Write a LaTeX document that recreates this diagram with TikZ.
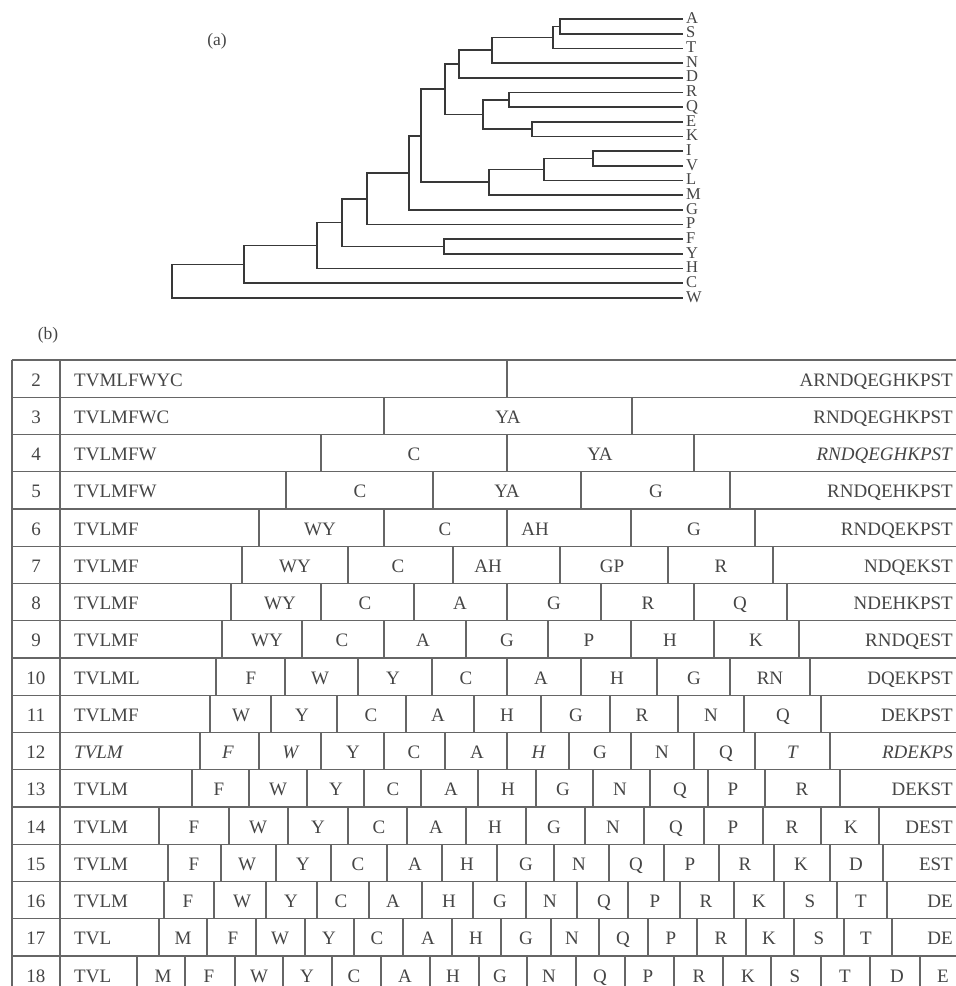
\documentclass[tikz,border=0pt]{standalone}
\usepackage{fontspec}
\setmainfont{Liberation Serif}
\usepackage{tikz}
\definecolor{inkgrey}{gray}{0.27}
\definecolor{rulegrey}{gray}{0.40}
\definecolor{treegrey}{gray}{0.22}

\newcommand{\tabrow}[5]{%
 \pgfmathsetmacro{\yt}{360+37.25*(#1-2)}
 \pgfmathsetmacro{\yc}{\yt+18.6}
 \node[num] (r#1n) at (36,\yc) {#1};
 \node[lead] (r#1a) at (74,\yc) {#2};
 \node[tail] (r#1z) at (953,\yc) {#5};
 \foreach \cx in {#3} \draw[rule] (\cx,\yt) -- ++(0,37.25);
 \foreach \cx/\ct [count=\j] in {#4} \node[cell] (r#1c\j) at (\cx,\yc) {\ct};
}

\begin{document}
\begin{tikzpicture}[x=1pt,y=-1pt,
 every node/.style={text=inkgrey,font=\fontsize{19}{20}\selectfont},
 rule/.style={draw=rulegrey,line width=1.2pt},
 branch/.style={draw=treegrey,line width=1.7pt},
 leaf/.style={anchor=west,inner sep=0pt,outer sep=3pt,text height=8.5pt,text depth=0pt,font=\fontsize{16.5}{17}\selectfont},
 cell/.style={inner sep=0pt,text height=15pt,text depth=0pt},
 num/.style={cell},
 lead/.style={cell,anchor=west},
 tail/.style={cell,anchor=east}]
 \clip (0,0) rectangle (956,986);

 % (a) tree
 \node[font=\fontsize{17.5}{18}\selectfont] (lblA) at (217,41) {(a)};
 \foreach \lab [count=\i from 0] in {A,S,T,N,D,R,Q,E,K,I,V,L,M,G,P,F,Y,H,C,W}
  \node[leaf] (l\lab) at (683,{19+14.68*\i}) {\lab};
 \coordinate (nAS) at (560,26.4);
 \coordinate (nAST) at (552.7,37.4);
 \coordinate (nASTN) at (492.3,50.2);
 \coordinate (nASTND) at (459.3,64);
 \coordinate (nRQ) at (509,99.8);
 \coordinate (nEK) at (532.3,129.1);
 \coordinate (nRQEK) at (482.7,114.4);
 \coordinate (nAK) at (445,89.2);
 \coordinate (nIV) at (593.3,158.5);
 \coordinate (nIVL) at (544.3,169.5);
 \coordinate (nIVLM) at (489.3,182.3);
 \coordinate (nAM) at (420.7,135.8);
 \coordinate (nAG) at (408.7,172.8);
 \coordinate (nAP) at (367.3,198.7);
 \coordinate (nFY) at (444.3,246.5);
 \coordinate (nAY) at (341.7,222.6);
 \coordinate (nAH) at (317.3,245.6);
 \coordinate (nAC) at (244.3,264.4);
 \coordinate (root) at (172.3,281.2);
 \draw[branch] (lA.west) -| (nAS) |- (lS.west);
 \draw[branch] (nAS) -| (nAST) |- (lT.west);
 \draw[branch] (nAST) -| (nASTN) |- (lN.west);
 \draw[branch] (nASTN) -| (nASTND) |- (lD.west);
 \draw[branch] (lR.west) -| (nRQ) |- (lQ.west);
 \draw[branch] (lE.west) -| (nEK) |- (lK.west);
 \draw[branch] (nRQ) -| (nRQEK) |- (nEK);
 \draw[branch] (nASTND) -| (nAK) |- (nRQEK);
 \draw[branch] (lI.west) -| (nIV) |- (lV.west);
 \draw[branch] (nIV) -| (nIVL) |- (lL.west);
 \draw[branch] (nIVL) -| (nIVLM) |- (lM.west);
 \draw[branch] (nAK) -| (nAM) |- (nIVLM);
 \draw[branch] (nAM) -| (nAG) |- (lG.west);
 \draw[branch] (nAG) -| (nAP) |- (lP.west);
 \draw[branch] (lF.west) -| (nFY) |- (lY.west);
 \draw[branch] (nAP) -| (nAY) |- (nFY);
 \draw[branch] (nAY) -| (nAH) |- (lH.west);
 \draw[branch] (nAH) -| (nAC) |- (lC.west);
 \draw[branch] (nAC) -| (root) |- (lW.west);

 % (b) table
 \node[font=\fontsize{17.5}{18}\selectfont] (lblB) at (48,335) {(b)};
 \foreach \k in {0,...,16}
  \draw[rule] (12,{360+37.25*\k}) -- (956,{360+37.25*\k});
 \draw[rule] (12,360) -- (12,986);
 \draw[rule] (60,360) -- (60,986);
 \tabrow{2}{TVMLFWYC}{507}{}{ARNDQEGHKPST}
 \tabrow{3}{TVLMFWC}{384,632}{508/YA}{RNDQEGHKPST}
 \tabrow{4}{TVLMFW}{321,507,694}{414/C,600/YA}{\textit{RNDQEGHKPST}}
 \tabrow{5}{TVLMFW}{286,433,581,730}{360/C,507/YA,656/G}{RNDQEHKPST}
 \tabrow{6}{TVLMF}{259,384,507,631,755}{320/WY,445/C,535/AH,694/G}{RNDQEKPST}
 \tabrow{7}{TVLMF}{242,348,453,560,668,773}{295/WY,398/C,488/AH,612/GP,721/R}{NDQEKST}
 \tabrow{8}{TVLMF}{231,321,414,507,601,694,787}{280/WY,365/C,460/A,554/G,648/R,740/Q}{NDEHKPST}
 \tabrow{9}{TVLMF}{222,302,384,466,548,631,714,799}{267/WY,342/C,423/A,507/G,589/P,670/H,756/K}{RNDQEST}
 \tabrow{10}{TVLML}{216,285,358,432,507,581,657,730,810}{251/F,320/W,393/Y,466/C,541/A,617/H,694/G,770/RN}{DQEKPST}
 \tabrow{11}{TVLMF}{210,271,337,406,474,541,610,678,744,821}{241/W,302/Y,371/C,438/A,507/H,576/G,642/R,711/N,783/Q}{DEKPST}
 \tabrow{12}{\textit{TVLM}}{200,259,321,384,445,507,569,631,694,755,830}{228/\textit{F},291/\textit{W},353/Y,414/C,477/A,539/\textit{H},600/G,662/N,726/Q,793/\textit{T}}{\textit{RDEKPS}}
 \tabrow{13}{TVLM}{192,249,307,364,421,478,536,593,650,708,765,840}{219/F,278/W,336/Y,393/C,451/A,508/H,563/G,620/N,680/Q,733/P,802/R}{DEKST}
 \tabrow{14}{TVLM}{159,229,288,348,407,466,526,585,644,704,763,821,879}{194/F,258/W,318/Y,379/C,436/A,495/H,554/G,613/N,676/Q,733/P,792/R,851/K}{DEST}
 \tabrow{15}{TVLM}{168,221,276,331,387,442,497,554,609,664,719,774,830,883}{194/F,247/W,303/Y,358/C,415/A,467/H,526/G,579/N,636/Q,690/P,745/R,801/K,856/D}{EST}
 \tabrow{16}{TVLM}{164,214,266,317,369,422,473,526,577,628,680,734,784,837,887}{188/F,242/W,291/Y,341/C,393/A,449/H,500/G,550/N,604/Q,655/P,706/R,759/K,810/S,861/T}{DE}
 \tabrow{17}{TVL}{159,207,256,305,354,403,452,501,551,599,648,697,746,794,844,892}{183/M,233/F,280/W,329/Y,377/C,428/A,476/H,526/G,572/N,623/Q,671/P,721/R,769/K,819/S,866/T}{DE}
 \tabrow{18}{TVL}{137,185,235,283,332,381,430,479,527,576,625,674,723,771,821,870,920}{163/M,209/F,259/W,307/Y,354/C,405/A,453/H,500/G,549/N,600/Q,648/P,699/R,748/K,795/S,845/T,897/D,943/E}{}
\end{tikzpicture}
\end{document}
